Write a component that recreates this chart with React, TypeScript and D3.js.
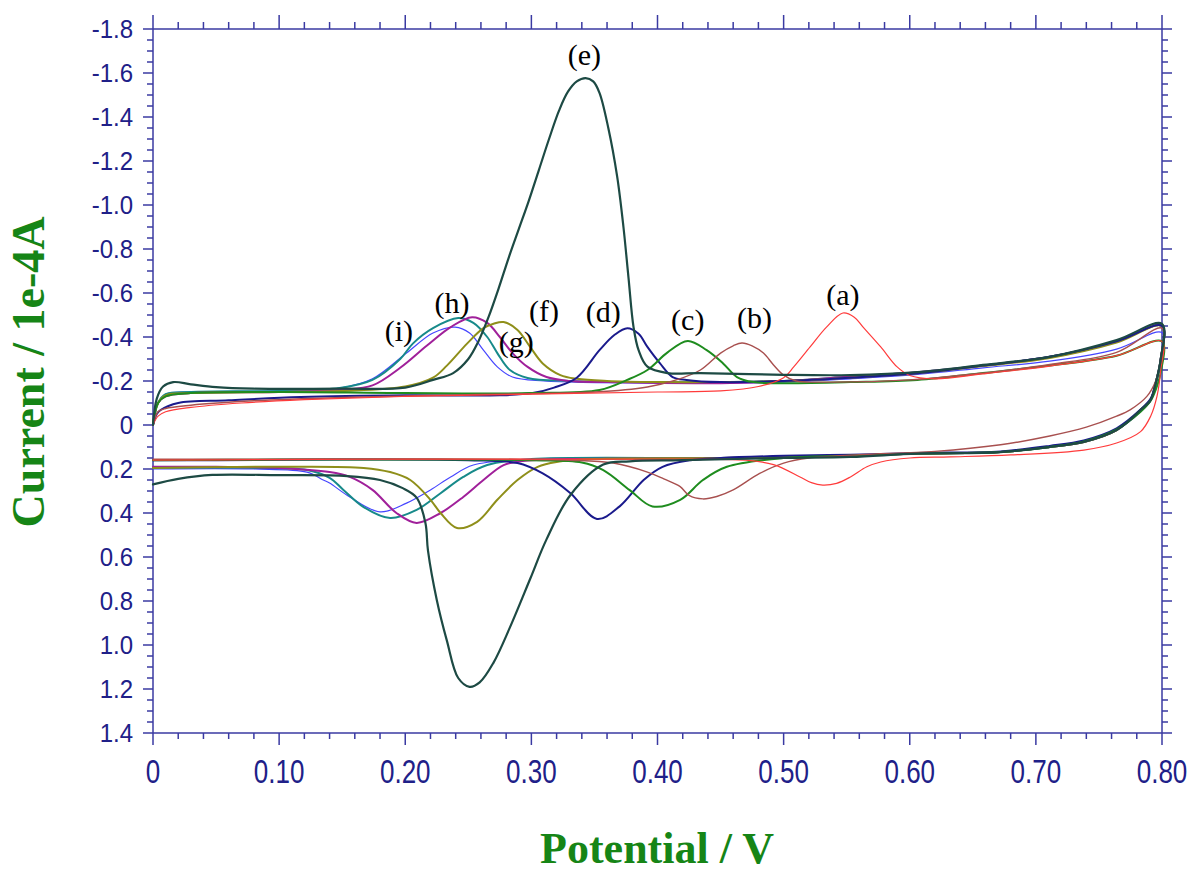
import React from "react";
import * as d3 from "d3";

// ---- axis ticks ----
const xTickValues = [0, 0.1, 0.2, 0.3, 0.4, 0.5, 0.6, 0.7, 0.8];
const xTickLabels = ["0", "0.10", "0.20", "0.30", "0.40", "0.50", "0.60", "0.70", "0.80"];
const yTickValues = [-1.8, -1.6, -1.4, -1.2, -1.0, -0.8, -0.6, -0.4, -0.2, 0, 0.2, 0.4, 0.6, 0.8, 1.0, 1.2, 1.4];
const yTickLabels = ["-1.8", "-1.6", "-1.4", "-1.2", "-1.0", "-0.8", "-0.6", "-0.4", "-0.2", "0", "0.2", "0.4", "0.6", "0.8", "1.0", "1.2", "1.4"];

// ---- series (potential V, current 1e-4 A) ----
const curveA: [number, number][] = [
  [0, 0], [0.004, -0.04], [0.01, -0.06], [0.03, -0.08], [0.07, -0.1], [0.12, -0.115], [0.2, -0.13], [0.3, -0.14], [0.4, -0.15], [0.45, -0.155], [0.48, -0.175], [0.5, -0.215], [0.508, -0.264], [0.521, -0.355], [0.534, -0.445], [0.547, -0.509], [0.556, -0.49], [0.563, -0.445], [0.577, -0.355], [0.59, -0.264], [0.6, -0.225], [0.62, -0.21], [0.658, -0.232], [0.711, -0.268], [0.764, -0.315], [0.8, -0.38],
  [0.799, -0.25], [0.796, -0.13], [0.791, -0.04], [0.783, 0.03], [0.764, 0.082], [0.738, 0.114], [0.68, 0.136], [0.632, 0.145], [0.6, 0.15], [0.577, 0.168], [0.566, 0.19], [0.553, 0.236], [0.542, 0.265], [0.531, 0.273], [0.522, 0.262], [0.513, 0.236], [0.492, 0.18], [0.47, 0.16], [0.4, 0.155], [0.3, 0.155], [0.2, 0.155], [0.1, 0.157], [0, 0.16],
];
const curveB: [number, number][] = [
  [0, 0], [0.004, -0.06], [0.01, -0.075], [0.03, -0.09], [0.08, -0.11], [0.15, -0.125], [0.25, -0.138], [0.35, -0.15], [0.392, -0.173], [0.415, -0.205], [0.434, -0.25], [0.45, -0.327], [0.46, -0.36], [0.467, -0.373], [0.475, -0.36], [0.484, -0.327], [0.492, -0.273], [0.5, -0.227], [0.51, -0.2], [0.53, -0.195], [0.6, -0.205], [0.658, -0.236], [0.711, -0.275], [0.764, -0.33], [0.8, -0.44],
  [0.799, -0.3], [0.795, -0.2], [0.788, -0.13], [0.775, -0.07], [0.764, -0.04], [0.74, 0.01], [0.711, 0.05], [0.672, 0.09], [0.62, 0.12], [0.56, 0.135], [0.52, 0.15], [0.5, 0.173], [0.481, 0.22], [0.46, 0.295], [0.447, 0.325], [0.436, 0.336], [0.425, 0.32], [0.418, 0.28], [0.405, 0.245], [0.392, 0.214], [0.365, 0.173], [0.33, 0.16], [0.2, 0.155], [0.1, 0.155], [0, 0.155],
];
const curveC: [number, number][] = [
  [0, 0], [0.004, -0.1], [0.01, -0.13], [0.03, -0.145], [0.1, -0.15], [0.2, -0.145], [0.3, -0.145], [0.354, -0.159], [0.376, -0.205], [0.392, -0.25], [0.408, -0.33], [0.424, -0.382], [0.439, -0.34], [0.452, -0.28], [0.463, -0.218], [0.476, -0.195], [0.5, -0.19], [0.553, -0.195], [0.606, -0.205], [0.658, -0.236], [0.711, -0.27], [0.764, -0.315], [0.8, -0.38],
  [0.799, -0.24], [0.795, -0.16], [0.791, -0.11], [0.783, -0.06], [0.764, 0.02], [0.738, 0.075], [0.711, 0.1], [0.672, 0.123], [0.606, 0.13], [0.553, 0.14], [0.5, 0.15], [0.455, 0.19], [0.436, 0.25], [0.418, 0.34], [0.396, 0.37], [0.378, 0.296], [0.357, 0.205], [0.34, 0.17], [0.3, 0.16], [0.2, 0.157], [0.1, 0.157], [0, 0.16],
];
const curveD: [number, number][] = [
  [0, 0], [0.003, -0.05], [0.006, -0.068], [0.02, -0.1], [0.06, -0.112], [0.117, -0.127], [0.2, -0.135], [0.275, -0.135], [0.301, -0.145], [0.318, -0.17], [0.336, -0.215], [0.354, -0.34], [0.366, -0.41], [0.376, -0.44], [0.385, -0.415], [0.392, -0.355], [0.402, -0.28], [0.412, -0.218], [0.423, -0.205], [0.45, -0.195], [0.5, -0.2], [0.553, -0.215], [0.606, -0.235], [0.658, -0.27], [0.711, -0.31], [0.764, -0.38], [0.8, -0.45],
  [0.799, -0.3], [0.795, -0.19], [0.791, -0.12], [0.783, -0.07], [0.764, 0.015], [0.738, 0.07], [0.711, 0.095], [0.672, 0.12], [0.606, 0.127], [0.553, 0.135], [0.5, 0.14], [0.45, 0.15], [0.426, 0.16], [0.404, 0.19], [0.389, 0.25], [0.37, 0.37], [0.352, 0.427], [0.331, 0.31], [0.309, 0.22], [0.289, 0.173], [0.25, 0.16], [0.15, 0.157], [0.05, 0.16], [0, 0.16],
];
const curveE: [number, number][] = [
  [0, 0], [0.003, -0.12], [0.008, -0.175], [0.016, -0.195], [0.03, -0.185], [0.05, -0.172], [0.08, -0.165], [0.15, -0.165], [0.2, -0.17], [0.222, -0.205], [0.238, -0.236], [0.25, -0.3], [0.258, -0.38], [0.266, -0.49], [0.274, -0.62], [0.282, -0.76], [0.29, -0.89], [0.298, -1.02], [0.306, -1.16], [0.314, -1.3], [0.322, -1.43], [0.329, -1.515], [0.336, -1.562], [0.343, -1.577], [0.349, -1.562], [0.354, -1.51], [0.361, -1.35], [0.368, -1.13], [0.373, -0.9], [0.377, -0.67], [0.381, -0.445], [0.385, -0.34], [0.392, -0.265], [0.408, -0.236], [0.434, -0.236], [0.5, -0.228], [0.553, -0.227], [0.606, -0.24], [0.658, -0.273], [0.711, -0.31], [0.764, -0.386], [0.8, -0.46],
  [0.799, -0.3], [0.795, -0.19], [0.791, -0.114], [0.783, -0.068], [0.764, 0.023], [0.738, 0.077], [0.711, 0.1], [0.672, 0.123], [0.606, 0.13], [0.553, 0.145], [0.5, 0.15], [0.42, 0.16], [0.378, 0.165], [0.357, 0.18], [0.331, 0.318], [0.312, 0.52], [0.299, 0.7], [0.283, 0.92], [0.27, 1.08], [0.259, 1.17], [0.251, 1.19], [0.242, 1.15], [0.233, 0.98], [0.225, 0.795], [0.218, 0.57], [0.216, 0.445], [0.209, 0.33], [0.198, 0.287], [0.18, 0.25], [0.154, 0.232], [0.1, 0.228], [0.047, 0.227], [0.02, 0.245], [0, 0.27],
];
const curveF: [number, number][] = [
  [0, 0], [0.004, -0.1], [0.01, -0.135], [0.03, -0.145], [0.1, -0.15], [0.15, -0.155], [0.2, -0.175], [0.222, -0.215], [0.233, -0.27], [0.249, -0.37], [0.262, -0.44], [0.27, -0.46], [0.278, -0.468], [0.289, -0.432], [0.299, -0.355], [0.309, -0.28], [0.323, -0.227], [0.336, -0.21], [0.36, -0.2], [0.4, -0.195], [0.45, -0.195], [0.5, -0.2], [0.553, -0.215], [0.606, -0.235], [0.658, -0.268], [0.711, -0.305], [0.764, -0.375], [0.8, -0.45],
  [0.799, -0.3], [0.795, -0.19], [0.791, -0.114], [0.783, -0.068], [0.764, 0.023], [0.738, 0.077], [0.711, 0.1], [0.672, 0.123], [0.606, 0.13], [0.553, 0.14], [0.45, 0.15], [0.35, 0.155], [0.32, 0.168], [0.305, 0.19], [0.289, 0.25], [0.273, 0.34], [0.257, 0.44], [0.241, 0.468], [0.228, 0.4], [0.22, 0.34], [0.204, 0.25], [0.188, 0.214], [0.167, 0.195], [0.1, 0.19], [0, 0.195],
];
const curveG: [number, number][] = [
  [0, 0], [0.004, -0.1], [0.01, -0.13], [0.03, -0.145], [0.1, -0.15], [0.15, -0.16], [0.174, -0.18], [0.196, -0.26], [0.217, -0.36], [0.236, -0.445], [0.253, -0.49], [0.265, -0.464], [0.275, -0.4], [0.285, -0.327], [0.297, -0.264], [0.312, -0.218], [0.33, -0.2], [0.36, -0.195], [0.45, -0.19], [0.5, -0.2], [0.553, -0.22], [0.606, -0.24], [0.658, -0.27], [0.711, -0.31], [0.764, -0.38], [0.8, -0.45],
  [0.799, -0.3], [0.795, -0.19], [0.791, -0.114], [0.783, -0.068], [0.764, 0.023], [0.738, 0.077], [0.711, 0.1], [0.672, 0.123], [0.606, 0.13], [0.553, 0.14], [0.45, 0.15], [0.33, 0.155], [0.293, 0.164], [0.278, 0.182], [0.262, 0.25], [0.246, 0.327], [0.228, 0.4], [0.209, 0.445], [0.193, 0.4], [0.174, 0.295], [0.156, 0.236], [0.14, 0.214], [0.1, 0.195], [0.05, 0.19], [0, 0.19],
];
const curveH: [number, number][] = [
  [0, 0], [0.004, -0.1], [0.01, -0.14], [0.03, -0.15], [0.1, -0.155], [0.148, -0.168], [0.174, -0.205], [0.196, -0.3], [0.206, -0.37], [0.222, -0.44], [0.242, -0.486], [0.254, -0.464], [0.265, -0.4], [0.273, -0.327], [0.283, -0.25], [0.297, -0.214], [0.33, -0.2], [0.4, -0.195], [0.5, -0.2], [0.553, -0.22], [0.606, -0.24], [0.658, -0.27], [0.711, -0.31], [0.764, -0.38], [0.8, -0.45],
  [0.799, -0.3], [0.795, -0.19], [0.791, -0.114], [0.783, -0.068], [0.764, 0.023], [0.738, 0.077], [0.711, 0.1], [0.672, 0.123], [0.606, 0.13], [0.553, 0.14], [0.45, 0.15], [0.3, 0.155], [0.265, 0.182], [0.246, 0.236], [0.228, 0.31], [0.209, 0.386], [0.188, 0.423], [0.167, 0.373], [0.151, 0.295], [0.14, 0.24], [0.122, 0.205], [0.08, 0.195], [0, 0.195],
];
const curveI: [number, number][] = [
  [0, 0], [0.004, -0.1], [0.01, -0.14], [0.03, -0.15], [0.1, -0.155], [0.148, -0.168], [0.174, -0.21], [0.201, -0.327], [0.222, -0.418], [0.2395, -0.445], [0.251, -0.418], [0.262, -0.34], [0.273, -0.264], [0.285, -0.218], [0.31, -0.2], [0.4, -0.19], [0.5, -0.195], [0.553, -0.21], [0.606, -0.23], [0.658, -0.26], [0.711, -0.29], [0.764, -0.345], [0.8, -0.42],
  [0.799, -0.28], [0.795, -0.18], [0.791, -0.11], [0.783, -0.06], [0.764, 0.023], [0.738, 0.077], [0.711, 0.1], [0.672, 0.123], [0.606, 0.13], [0.553, 0.14], [0.45, 0.15], [0.3, 0.155], [0.254, 0.182], [0.236, 0.236], [0.22, 0.295], [0.201, 0.355], [0.18, 0.395], [0.156, 0.327], [0.14, 0.264], [0.135, 0.25], [0.122, 0.214], [0.08, 0.2], [0, 0.2],
];

const seriesNames = ["i", "h", "g", "f", "d", "c", "b", "a", "e"];
const seriesData = [curveI, curveH, curveG, curveF, curveD, curveC, curveB, curveA, curveE];
const seriesColors = ["#4646ff", "#178a8a", "#a0209a", "#8f8f1a", "#1a1a8c", "#1e8c1e", "#a8504f", "#ff3b3b", "#1d4a44"];
const seriesWidths = [1.2, 2, 2, 2, 2, 2, 1.4, 1.2, 2.2];

// peak annotation labels: text, potential, current (anchor positions in data units)
const labelTexts = ["(a)", "(b)", "(c)", "(d)", "(e)", "(f)", "(g)", "(h)", "(i)"];
const labelV = [0.547, 0.477, 0.424, 0.357, 0.342, 0.31, 0.288, 0.237, 0.195];
const labelI = [-0.545, -0.441, -0.432, -0.468, -1.636, -0.472, -0.33, -0.509, -0.382];

const W = 1191;
const H = 874;

export default function App() {
  const x = d3.scaleLinear().domain([0, 0.8]).range([153, 1162]);
  const y = d3.scaleLinear().domain([-1.8, 1.4]).range([29, 733]);
  const line = d3
    .line<[number, number]>()
    .x((d) => x(d[0]))
    .y((d) => y(d[1]))
    .curve(d3.curveCatmullRom.alpha(0.5));

  const axisColor = "#3a3aa2";
  const labelColor = "#202088";
  const titleColor = "#168516";

  const xMinor = d3.range(0, 0.8001, 0.02);
  const yMinor = d3.range(-1.8, 1.4001, 0.05);
  const [x0, x1] = x.range();
  const [y0, y1] = y.range();

  return (
    <svg width={W} height={H} style={{ position: "absolute", left: 0, top: 0, background: "#fff" }}>
      <rect x={0} y={0} width={W} height={H} fill="#fff" />
      {/* frame */}
      <g stroke={axisColor} strokeWidth={1.5} fill="none">
        <line x1={x0} y1={y0} x2={x1} y2={y0} />
        <line x1={x0} y1={y1} x2={x1} y2={y1} />
        <line x1={x0} y1={y0} x2={x0} y2={y1} />
        <line x1={x1} y1={y0} x2={x1} y2={y1} />
        {xMinor.map((v, k) => {
          const major = k % 5 === 0;
          return (
            <g key={"xm" + k}>
              <line x1={x(v)} x2={x(v)} y1={y0} y2={y0 - (major ? 14 : 7)} />
              <line x1={x(v)} x2={x(v)} y1={y1} y2={y1 + (major ? 12 : 6)} />
            </g>
          );
        })}
        {yMinor.map((v, k) => {
          const major = k % 4 === 0;
          return (
            <g key={"ym" + k}>
              <line x1={x0} x2={x0 - (major ? 10 : 6)} y1={y(v)} y2={y(v)} />
              <line x1={x1} x2={x1 + (major ? 10 : 6)} y1={y(v)} y2={y(v)} />
            </g>
          );
        })}
      </g>
      {/* y tick labels */}
      <g fill={labelColor} fontFamily="'Liberation Sans', Arial, sans-serif" fontSize={24}>
        {yTickValues.map((v, k) => (
          <text key={"yl" + k} transform={`translate(133,${y(v)}) scale(1,1.06)`} dy="0.36em" textAnchor="end">
            {yTickLabels[k]}
          </text>
        ))}
      </g>
      {/* x tick labels */}
      <g fill={labelColor} fontFamily="'Liberation Sans', Arial, sans-serif" fontSize={26}>
        {xTickValues.map((v, k) => (
          <text key={"xl" + k} transform={`translate(${x(v)},783) scale(1,1.28)`} textAnchor="middle">
            {xTickLabels[k]}
          </text>
        ))}
      </g>
      {/* curves */}
      <g fill="none" strokeLinejoin="round" strokeLinecap="round">
        {seriesData.map((d, k) => (
          <path key={seriesNames[k]} d={line(d) || ""} stroke={seriesColors[k]} strokeWidth={seriesWidths[k]} />
        ))}
      </g>
      {/* peak labels */}
      <g fill="#000" fontFamily="'Liberation Serif', 'Times New Roman', serif" fontSize={30}>
        {labelTexts.map((t, k) => (
          <text key={"lab" + k} x={x(labelV[k])} y={y(labelI[k])} textAnchor="middle">
            {t}
          </text>
        ))}
      </g>
      {/* axis titles */}
      <text
        x={657}
        y={863}
        textAnchor="middle"
        fill={titleColor}
        fontFamily="'Liberation Serif', 'Times New Roman', serif"
        fontWeight="bold"
        fontSize={44}
      >
        Potential / V
      </text>
      <text
        transform="translate(44,372) rotate(-90)"
        textAnchor="middle"
        fill={titleColor}
        fontFamily="'Liberation Serif', 'Times New Roman', serif"
        fontWeight="bold"
        fontSize={46}
      >
        Current / 1e-4A
      </text>
    </svg>
  );
}
